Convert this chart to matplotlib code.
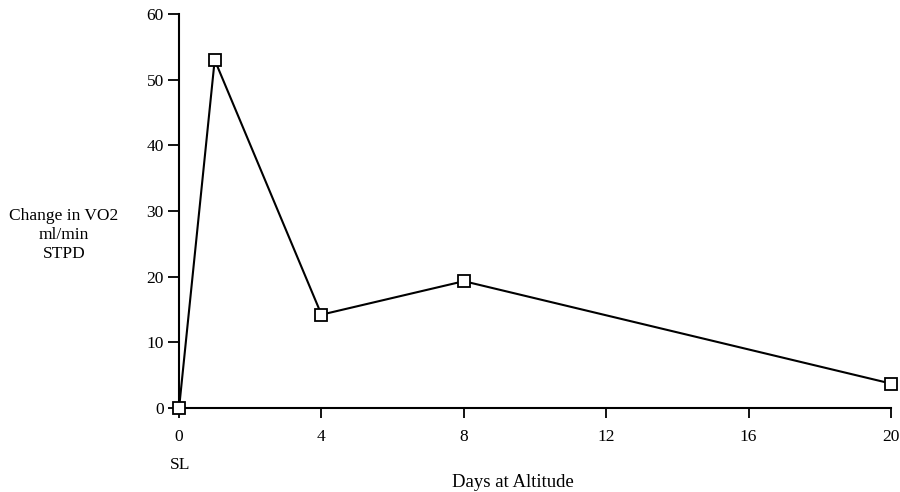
import matplotlib
matplotlib.use("Agg")
import matplotlib.pyplot as plt

days = [0, 1, 4, 8, 20]
change_vo2 = [0, 53, 14.2, 19.3, 3.7]
xticks = [0, 4, 8, 12, 16, 20]
yticks = [0, 10, 20, 30, 40, 50, 60]

plt.rcParams['font.family'] = ['Liberation Serif', 'DejaVu Serif']

fig = plt.figure(figsize=(9, 4.92), dpi=100)
ax = fig.add_axes([0.199, 0.171, 0.791, 0.8005])
ax.plot(days, change_vo2, color='black', lw=1.5, marker='s', ms=8,
        mfc='white', mec='black', mew=1.3, clip_on=False, zorder=3)
ax.set_xlim(0, 20)
ax.set_ylim(0, 60)
ax.set_xticks(xticks)
ax.set_yticks(yticks)
for s in ['top', 'right']:
    ax.spines[s].set_visible(False)
for s in ['left', 'bottom']:
    ax.spines[s].set_linewidth(1.5)
ax.tick_params(axis='y', direction='out', length=8, width=1.3, labelsize=12.5, pad=3)
ax.tick_params(axis='x', direction='out', length=7, width=1.3, labelsize=12.5, pad=8)
fig.text(0.071, 0.522, 'Change in VO2\nml/min\nSTPD', ha='center', va='center',
         fontsize=12.5, linespacing=1.25)
fig.text(0.2, 0.055, 'SL', ha='center', va='center', fontsize=12.5)
fig.text(0.57, 0.02, 'Days at Altitude', ha='center', va='center', fontsize=13.5)
fig.savefig('out.png', dpi=100)
